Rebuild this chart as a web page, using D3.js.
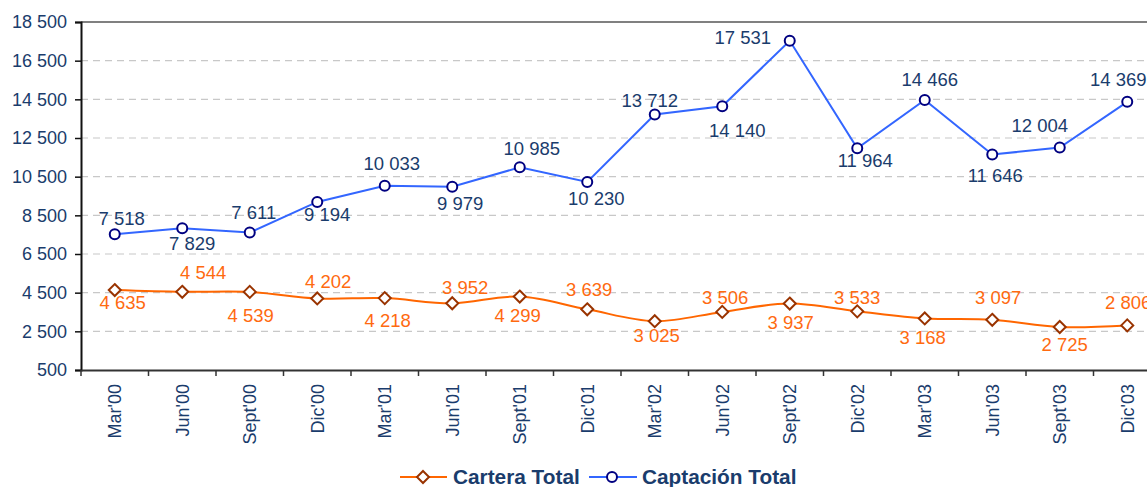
<!DOCTYPE html>
<html>
<head>
<meta charset="utf-8">
<script src="https://cdn.jsdelivr.net/npm/d3@7"></script>
<style>
  html, body { margin: 0; padding: 0; background: #ffffff; }
  svg { display: block; font-family: "Liberation Sans", Arial, sans-serif; }
</style>
</head>
<body>
<svg id="chart" width="1147" height="487"></svg>
<script>
// ---------- data ----------
const categories = ["Mar'00","Jun'00","Sept'00","Dic'00","Mar'01","Jun'01","Sept'01","Dic'01",
                    "Mar'02","Jun'02","Sept'02","Dic'02","Mar'03","Jun'03","Sept'03","Dic'03"];
const carteraTotal   = [4635, 4544, 4539, 4202, 4218, 3952, 4299, 3639, 3025, 3506, 3937, 3533, 3168, 3097, 2725, 2806];
const captacionTotal = [7518, 7829, 7611, 9194, 10033, 9979, 10985, 10230, 13712, 14140, 17531, 11964, 14466, 11646, 12004, 14369];
const yTickValues = [500, 2500, 4500, 6500, 8500, 10500, 12500, 14500, 16500, 18500];
const seriesNames = ["Cartera Total", "Captación Total"];

// ---------- label layout nudges (px, relative to the point) ----------
const captacionLabelDx = [7, 10, 4, 10, 7, 8, 12, 9, -5, 15, -47, 8, 5, 3, -20, -9];
const captacionLabelDy = [-16, 15, -20, 13, -22, 17, -19, 17, -14, 24, -3, 12, -20, 21, -22, -22];
const carteraLabelDx = [8, 21, 1, 11, 3, 13, -2, 2, 2, 3, 1, 0, -2, 6, 5, 1];
const carteraLabelDy = [12, -19, 24, -17, 22, -16, 19, -20, 14, -14, 19, -14, 19, -22, 18, -23];

// ---------- layout ----------
const svg = d3.select("#chart");
const plotLeft = 81, plotTop = 22, plotBottom = 370, plotRight = 81 + 67.5 * categories.length;
const navy = "#1A3C6C";
const orange = "#FF6A10";
const fmt = v => d3.format(",")(v).replace(/,/g, " ");

const x = d3.scaleBand().domain(categories).range([plotLeft, plotRight]).paddingInner(0).paddingOuter(0);
const y = d3.scaleLinear().domain([500, 18500]).range([plotBottom, plotTop]);
const cx = c => x(c) + x.bandwidth() / 2;

// gridlines
svg.append("g").selectAll("line")
  .data(yTickValues.filter(v => v !== 500 && v !== 18500))
  .join("line")
  .attr("x1", plotLeft).attr("x2", plotRight)
  .attr("y1", d => y(d)).attr("y2", d => y(d))
  .attr("stroke", "#C8C8C8").attr("stroke-width", 1.2)
  .attr("stroke-dasharray", "7,5");

// top border
svg.append("line")
  .attr("x1", plotLeft).attr("x2", plotRight)
  .attr("y1", y(18500)).attr("y2", y(18500))
  .attr("stroke", "#808080").attr("stroke-width", 2);

// y axis
const yAxis = d3.axisLeft(y).tickValues(yTickValues).tickFormat(fmt).tickSize(6).tickPadding(8);
const gy = svg.append("g").attr("transform", `translate(${plotLeft},0)`).call(yAxis);
gy.select(".domain").attr("stroke", "#111").attr("stroke-width", 2);
gy.selectAll(".tick line").attr("stroke", "#111").attr("stroke-width", 1.5);
gy.selectAll(".tick text").attr("fill", navy).attr("font-size", 18)
  .attr("font-family", "'Liberation Sans', Arial, sans-serif");

// x axis
const xAxis = d3.axisBottom(x).tickSize(0).tickFormat(d => d);
const gx = svg.append("g").attr("transform", `translate(0,${plotBottom})`).call(xAxis);
gx.select(".domain").attr("stroke", "#333").attr("stroke-width", 2);
gx.selectAll(".tick text")
  .attr("fill", navy).attr("font-size", 18)
  .attr("font-family", "'Liberation Sans', Arial, sans-serif")
  .attr("transform", "rotate(-90)")
  .attr("text-anchor", "end")
  .attr("x", -14).attr("y", 0).attr("dy", "0.35em");
// category boundary tick marks
svg.append("g").selectAll("line")
  .data(d3.range(categories.length + 1))
  .join("line")
  .attr("x1", i => plotLeft + i * x.bandwidth()).attr("x2", i => plotLeft + i * x.bandwidth())
  .attr("y1", plotBottom).attr("y2", plotBottom + 6)
  .attr("stroke", "#333").attr("stroke-width", 1.5);

// ---------- series ----------
const cartData = categories.map((c, i) => ({ c, v: carteraTotal[i], i }));
const captData = categories.map((c, i) => ({ c, v: captacionTotal[i], i }));

// Cartera (smoothed)
svg.append("path")
  .datum(cartData)
  .attr("fill", "none").attr("stroke", "#FF6600").attr("stroke-width", 2)
  .attr("d", d3.line().x(d => cx(d.c)).y(d => y(d.v)).curve(d3.curveCatmullRom.alpha(0.5)));

// Captación (straight)
svg.append("path")
  .datum(captData)
  .attr("fill", "none").attr("stroke", "#3366FF").attr("stroke-width", 2)
  .attr("d", d3.line().x(d => cx(d.c)).y(d => y(d.v)));

const diamondPath = "M0,-6L6,0L0,6L-6,0Z";

svg.append("g").selectAll("path")
  .data(cartData).join("path")
  .attr("d", diamondPath)
  .attr("transform", d => `translate(${cx(d.c)},${y(d.v)})`)
  .attr("fill", "#fff").attr("stroke", "#993300").attr("stroke-width", 2);

svg.append("g").selectAll("circle")
  .data(captData).join("circle")
  .attr("cx", d => cx(d.c)).attr("cy", d => y(d.v)).attr("r", 5)
  .attr("fill", "#fff").attr("stroke", "#000080").attr("stroke-width", 2);

// labels
svg.append("g").selectAll("text")
  .data(captData).join("text")
  .attr("x", d => cx(d.c) + captacionLabelDx[d.i])
  .attr("y", d => y(d.v) + captacionLabelDy[d.i])
  .attr("dy", "0.35em")
  .attr("text-anchor", "middle")
  .attr("font-size", 18.5).attr("fill", navy)
  .text(d => fmt(d.v));

svg.append("g").selectAll("text")
  .data(cartData).join("text")
  .attr("x", d => cx(d.c) + carteraLabelDx[d.i])
  .attr("y", d => y(d.v) + carteraLabelDy[d.i])
  .attr("dy", "0.35em")
  .attr("text-anchor", "middle")
  .attr("font-size", 18.5).attr("fill", orange)
  .text(d => fmt(d.v));

// ---------- legend ----------
const lg = svg.append("g").attr("transform", "translate(0,477)");
// Cartera
lg.append("line").attr("x1", 400).attr("x2", 447).attr("y1", 0).attr("y2", 0)
  .attr("stroke", "#FF6600").attr("stroke-width", 2);
lg.append("path").attr("d", diamondPath).attr("transform", "translate(423,0)")
  .attr("fill", "#fff").attr("stroke", "#993300").attr("stroke-width", 2);
lg.append("text").attr("x", 453).attr("y", 0).attr("dy", "0.35em")
  .attr("font-size", 20.8).attr("font-weight", "bold").attr("fill", navy).text(seriesNames[0]);
// Captación
lg.append("line").attr("x1", 589).attr("x2", 637).attr("y1", 0).attr("y2", 0)
  .attr("stroke", "#3366FF").attr("stroke-width", 2);
lg.append("circle").attr("cx", 612).attr("cy", 0).attr("r", 5)
  .attr("fill", "#fff").attr("stroke", "#000080").attr("stroke-width", 2);
lg.append("text").attr("x", 642).attr("y", 0).attr("dy", "0.35em")
  .attr("font-size", 20.8).attr("font-weight", "bold").attr("fill", navy).text(seriesNames[1]);
</script>
</body>
</html>
